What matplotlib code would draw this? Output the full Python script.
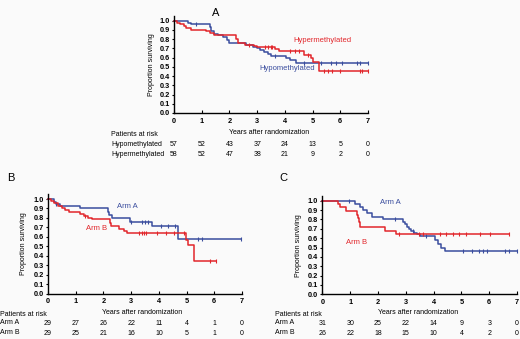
import numpy as np
import matplotlib
matplotlib.use("Agg")
import matplotlib.pyplot as plt
from matplotlib.transforms import blended_transform_factory

plt.rcParams['font.family'] = ['Liberation Sans', 'DejaVu Sans']

BLUE = '#3a4d9e'
RED = '#e2262b'
BG = '#fafafa'

years = [0, 1, 2, 3, 4, 5, 6, 7]

# ---------------- Panel A ----------------
a_hypo_t = [0, 0.5, 0.62, 1.3, 1.35, 1.45, 1.6, 1.75, 1.9, 2.0, 2.6, 2.85, 3.0, 3.1, 3.25, 3.4, 3.5, 4.05, 4.2, 4.4]
a_hypo_s = [1.0, 0.98, 0.96, 0.93, 0.89, 0.86, 0.84, 0.82, 0.79, 0.76, 0.74, 0.72, 0.70, 0.68, 0.66, 0.64, 0.62, 0.60, 0.57, 0.54]
a_hypo_c = [0.8, 3.65, 4.7, 5.3, 5.65, 5.85, 6.05, 6.6, 6.72, 7.0]
a_hypo_end = 7.0

a_hyper_t = [0, 0.1, 0.2, 0.35, 0.45, 0.6, 1.15, 1.3, 1.45, 2.25, 2.3, 2.55, 2.9, 3.0, 3.15, 3.65, 3.8, 4.7, 4.95, 5.0, 5.25]
a_hyper_s = [1.0, 0.98, 0.96, 0.94, 0.92, 0.90, 0.89, 0.87, 0.85, 0.80, 0.76, 0.74, 0.73, 0.72, 0.71, 0.69, 0.67, 0.63, 0.60, 0.55, 0.46]
a_hyper_c = [2.7, 3.3, 3.4, 3.5, 3.55, 4.2, 4.35, 4.5, 4.85, 5.4, 5.55, 5.7, 6.0, 6.7, 6.8, 7.0]
a_hyper_end = 7.0

a_risk_labels = ['Hypomethylated', 'Hypermethylated']
a_risk_hypo = [57, 52, 43, 37, 24, 13, 5, 0]
a_risk_hyper = [58, 52, 47, 38, 21, 9, 2, 0]

# ---------------- Panel B ----------------
b_armA_t = [0, 0.2, 0.3, 0.45, 1.15, 2.15, 2.2, 2.3, 2.95, 3.75, 4.7]
b_armA_s = [1.0, 0.97, 0.95, 0.93, 0.90, 0.86, 0.83, 0.80, 0.76, 0.71, 0.58]
b_armA_c = [0.3, 3.0, 3.4, 3.5, 3.6, 4.08, 4.33, 4.58, 5.42, 5.56, 6.97]
b_armA_end = 6.97

b_armB_t = [0, 0.12, 0.22, 0.35, 0.5, 0.6, 0.75, 1.15, 1.3, 1.45, 1.6, 2.23, 2.28, 2.55, 2.75, 2.85, 4.97, 5.05, 5.28]
b_armB_s = [1.0, 0.98, 0.955, 0.93, 0.91, 0.88, 0.86, 0.84, 0.82, 0.80, 0.79, 0.75, 0.71, 0.68, 0.66, 0.64, 0.57, 0.51, 0.34]
b_armB_c = [1.35, 3.3, 3.4, 3.45, 3.55, 3.95, 4.25, 4.55, 4.9, 5.85, 6.05]
b_armB_end = 6.05

b_risk_A = [29, 27, 26, 22, 11, 4, 1, 0]
b_risk_B = [29, 25, 21, 16, 10, 5, 1, 0]

# ---------------- Panel C ----------------
c_armA_t = [0, 1.18, 1.36, 1.48, 1.6, 1.78, 2.18, 2.9, 2.98, 3.05, 3.12, 3.2, 3.3, 3.4, 3.5, 4.05, 4.15, 4.25, 4.4]
c_armA_s = [1.0, 0.97, 0.93, 0.90, 0.87, 0.83, 0.80, 0.77, 0.75, 0.72, 0.70, 0.68, 0.66, 0.64, 0.62, 0.58, 0.54, 0.50, 0.46]
c_armA_c = [0.97, 2.62, 3.25, 3.73, 5.05, 5.38, 5.65, 5.77, 5.92, 6.58, 6.7, 7.0]
c_armA_end = 7.0

c_armB_t = [0, 0.55, 0.62, 0.85, 1.25, 1.28, 1.32, 1.36, 2.25, 2.65]
c_armB_s = [1.0, 0.96, 0.93, 0.885, 0.85, 0.81, 0.77, 0.72, 0.68, 0.645]
c_armB_c = [2.74, 3.46, 3.63, 4.24, 4.46, 4.69, 4.92, 5.17, 5.67, 6.03, 6.71]
c_armB_end = 6.71

c_risk_A = [31, 30, 25, 22, 14, 9, 3, 0]
c_risk_B = [26, 22, 18, 15, 10, 4, 2, 0]

W, H = 520, 339
fig = plt.figure(figsize=(W / 100, H / 100), dpi=100, facecolor=BG)


def make_ax(left, right, y1, y0):
    # pixel positions: left/right for x=0..7, y1 pixel of value 1.0, y0 pixel of value 0.0
    top = y0 - 1.05 * (y0 - y1)
    ax = fig.add_axes([left / W, 1 - y0 / H, (right - left) / W, (y0 - top) / H])
    ax.set_facecolor(BG)
    ax.set_xlim(0, 7)
    ax.set_ylim(0, 1.05)
    for s in ['top', 'right']:
        ax.spines[s].set_visible(False)
    for s in ['left', 'bottom']:
        ax.spines[s].set_linewidth(1.0)
    ax.set_xticks(years)
    ax.set_yticks(np.round(np.arange(0, 1.01, 0.1), 1))
    ax.set_yticklabels(['%.1f' % v for v in np.arange(0, 1.01, 0.1)])
    ax.tick_params(axis='x', direction='in', length=2, width=0.8, pad=3.5, labelsize=5.3)
    ax.tick_params(axis='y', direction='out', length=1.5, width=0.8, pad=1.5, labelsize=5.3)
    for lab in ax.get_xticklabels() + ax.get_yticklabels():
        lab.set_fontweight('bold')
    ax.set_ylabel('Proportion surviving', fontsize=5)
    return ax


def km(ax, t, s, c, end, color):
    t = np.asarray(t, float)
    s = np.asarray(s, float)
    ax.step(np.append(t, end), np.append(s, s[-1]), where='post', color=color, lw=1.1, clip_on=False)
    c = np.asarray(c, float)
    idx = np.searchsorted(t, c, side='right') - 1
    ax.plot(c, s[idx], linestyle='none', marker='|', ms=3, mew=0.8, color=color, clip_on=False)


def fy(y_px):
    return 1 - y_px / H


def risk_row(ax, y_px, values):
    tr = blended_transform_factory(ax.transData, fig.transFigure)
    for x, v in zip(years, values):
        ax.text(x, fy(y_px), str(v), transform=tr, ha='center', va='center', fontsize=5)


# Panel A
axA = make_ax(174, 368, 20.7, 113)
km(axA, a_hypo_t, a_hypo_s, a_hypo_c, a_hypo_end, BLUE)
km(axA, a_hyper_t, a_hyper_s, a_hyper_c, a_hyper_end, RED)
axA.yaxis.set_label_coords(-0.098, 0.5)
fig.text(322 / W, fy(40), 'Hypermethylated', color=RED, fontsize=5.5, ha='center', va='center')
fig.text(287 / W, fy(69), 'Hypomethylated', color=BLUE, fontsize=5.5, ha='center', va='center')
fig.text(216 / W, fy(13), 'A', fontsize=8, ha='center', va='center')
fig.text(111 / W, fy(135), 'Patients at risk', fontsize=5, ha='left', va='center')
fig.text(269 / W, fy(133), 'Years after randomization', fontsize=5, ha='center', va='center')
fig.text(111 / W, fy(144), a_risk_labels[0], fontsize=5, ha='left', va='center')
fig.text(111 / W, fy(154), a_risk_labels[1], fontsize=5, ha='left', va='center')
risk_row(axA, 145, a_risk_hypo)
risk_row(axA, 154.5, a_risk_hyper)

# Panel B
axB = make_ax(48, 242, 199, 293.5)
km(axB, b_armA_t, b_armA_s, b_armA_c, b_armA_end, BLUE)
km(axB, b_armB_t, b_armB_s, b_armB_c, b_armB_end, RED)
axB.yaxis.set_label_coords(-0.108, 0.5)
fig.text(127 / W, fy(207), 'Arm A', color=BLUE, fontsize=5.5, ha='center', va='center')
fig.text(97 / W, fy(229), 'Arm B', color=RED, fontsize=5.5, ha='center', va='center')
fig.text(11 / W, fy(178), 'B', fontsize=8, ha='center', va='center')
fig.text(0 / W, fy(314), 'Patients at risk', fontsize=5, ha='left', va='center')
fig.text(142.5 / W, fy(313), 'Years after randomization', fontsize=5, ha='center', va='center')
fig.text(0 / W, fy(323), 'Arm A', fontsize=5, ha='left', va='center')
fig.text(0 / W, fy(333), 'Arm B', fontsize=5, ha='left', va='center')
risk_row(axB, 323.5, b_risk_A)
risk_row(axB, 333.5, b_risk_B)

# Panel C
axC = make_ax(322.3, 517, 200.7, 294.3)
km(axC, c_armA_t, c_armA_s, c_armA_c, c_armA_end, BLUE)
km(axC, c_armB_t, c_armB_s, c_armB_c, c_armB_end, RED)
axC.yaxis.set_label_coords(-0.104, 0.5)
fig.text(390 / W, fy(203), 'Arm A', color=BLUE, fontsize=5.5, ha='center', va='center')
fig.text(357 / W, fy(242), 'Arm B', color=RED, fontsize=5.5, ha='center', va='center')
fig.text(283 / W, fy(178), 'C', fontsize=8, ha='center', va='center')
fig.text(275 / W, fy(314), 'Patients at risk', fontsize=5, ha='left', va='center')
fig.text(418 / W, fy(313), 'Years after randomization', fontsize=5, ha='center', va='center')
fig.text(275 / W, fy(323), 'Arm A', fontsize=5, ha='left', va='center')
fig.text(275 / W, fy(333), 'Arm B', fontsize=5, ha='left', va='center')
risk_row(axC, 323.5, c_risk_A)
risk_row(axC, 333.5, c_risk_B)

fig.savefig('out.png', dpi=100, facecolor=BG)
